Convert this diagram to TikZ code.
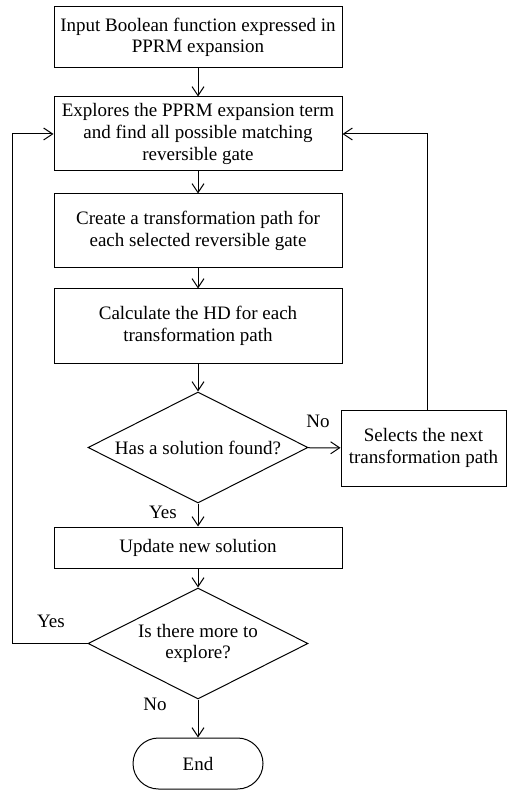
\documentclass[tikz,border=0pt]{standalone}
\usepackage{fontspec}
\setmainfont{Liberation Serif}
\usetikzlibrary{arrows.meta, shapes.geometric, positioning}

\begin{document}
\begin{tikzpicture}[x=0.5pt, y=-0.5pt, line width=0.5pt,
  every node/.style={font=\fontsize{9.5}{10.8}\selectfont, align=center},
  process/.style={draw, rectangle, inner sep=0pt, minimum width=144pt},
  decision/.style={draw, diamond, shape aspect=2, inner sep=0pt,
    minimum width=110pt, minimum height=55.5pt},
  terminal/.style={draw, rectangle, rounded corners=12.75pt, inner sep=0pt,
    minimum width=65pt, minimum height=25.5pt},
  flow/.style={-{Straight Barb[length=4.5pt,width=6pt]}}]
	\useasboundingbox (0,0) rectangle (507,790);

	% main column
	\node[process, minimum height=30.5pt] (in) at (198,37.5)
	  {Input Boolean function expressed in\\PPRM expansion};
	\node[process, minimum height=37pt] (expl) at (198,134)
	  {Explores the PPRM expansion term\\and find all possible matching\\reversible gate};
	\node[process, minimum height=37pt] (path) at (198,231)
	  {Create a transformation path for\\each selected reversible gate};
	\node[process, minimum height=37pt] (hd) at (198,326)
	  {Calculate the HD for each\\transformation path};
	\node[decision] (found) at (198,447.5) {Has a solution found?};
	\node[process, minimum height=20.5pt] (upd) at (198,547.5) {Update new solution};
	\node[decision] (more) at (198,643.5) {Is there more to\\explore?};
	\node[terminal] (end) at (198,763.5) {End};

	% side box
	\node[process, minimum width=82.5pt, minimum height=38pt] (sel) at (423.5,448)
	  {Selects the next\\transformation path};

	% branch labels
	\node (nofound) at (318,421) {No};
	\node (yesfound) at (163,512) {Yes};
	\node (yesmore) at (51,621) {Yes};
	\node (nomore) at (155,704) {No};

	% connectors
	\draw[flow] (in) -- (expl);
	\draw[flow] (expl) -- (path);
	\draw[flow] (path) -- (hd);
	\draw[flow] (hd) -- (found);
	\draw[flow] (found) -- (upd);
	\draw[flow] (upd) -- (more);
	\draw[flow] (more) -- (end);
	\draw[flow] (found) -- (sel);
	\draw[flow] ([xshift=2pt]sel.north) |- (expl.east);
	\draw[flow] (more.west) -- ++(-75,0) |- (expl.west);
\end{tikzpicture}
\end{document}
